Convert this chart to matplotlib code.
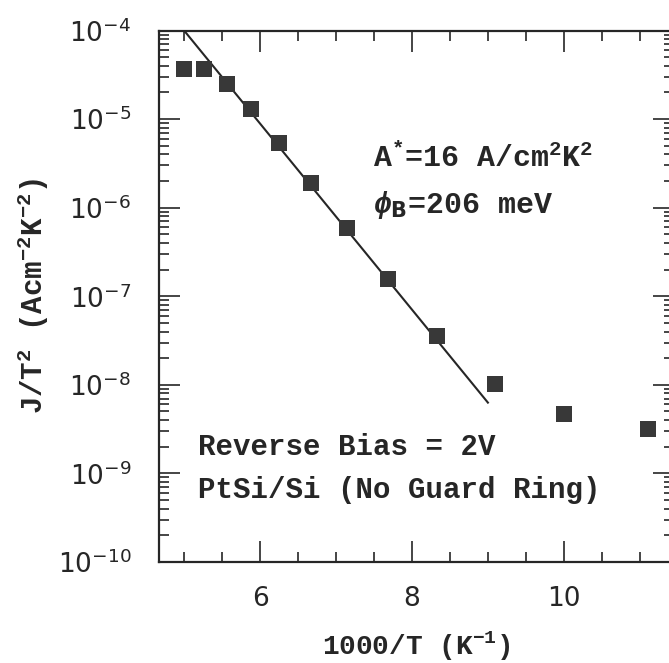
import math
import matplotlib
matplotlib.use("Agg")
import matplotlib.pyplot as plt
from matplotlib.ticker import LogLocator, MultipleLocator, FixedLocator, FuncFormatter, NullFormatter

plt.rcParams["mathtext.fontset"] = "dejavusans"
plt.rcParams["mathtext.rm"] = "Liberation Mono:bold"
plt.rcParams["mathtext.it"] = "Liberation Mono:italic:bold"
plt.rcParams["mathtext.bf"] = "Liberation Mono:bold"
plt.rcParams["mathtext.sf"] = "DejaVu Sans:bold"

# Data
inv_T = [5.0, 5.26, 5.56, 5.88, 6.25, 6.67, 7.14, 7.69, 8.33, 9.09, 10.0, 11.11]
j_over_T2 = [3.65e-5, 3.65e-5, 2.5e-5, 1.3e-5, 5.4e-6, 1.9e-6, 5.9e-7, 1.57e-7,
             3.6e-8, 1.02e-8, 4.7e-9, 3.2e-9]
fit_x = [5.0, 9.0]
fit_y = [1.0e-4, 6.3e-9]
xticks_major = [6, 8, 10]
xtick_labels = ["6", "8", "10"]
ytick_exps = [-10, -9, -8, -7, -6, -5, -4]

W, H = 669, 663
fig = plt.figure(figsize=(W / 100, H / 100), dpi=100)
L, R, T, B = 159, 674, 30.5, 562
ax = fig.add_axes([L / W, 1 - B / H, (R - L) / W, (B - T) / H])

ink = "#262626"
ax.plot(fit_x, fit_y, color=ink, lw=1.5, zorder=2)
ax.plot(inv_T, j_over_T2, linestyle="none", marker="s", markersize=11.5,
        color="#383838", markeredgewidth=0, zorder=3, clip_on=False)

ax.set_yscale("log")
ax.set_xlim(4.67, 11.45)
ax.set_ylim(1e-10, 1e-4)

ax.xaxis.set_major_locator(FixedLocator(xticks_major))
ax.set_xticklabels(xtick_labels)
ax.xaxis.set_minor_locator(MultipleLocator(0.5))
ax.yaxis.set_major_locator(FixedLocator([10.0 ** e for e in ytick_exps]))
ax.yaxis.set_minor_locator(LogLocator(base=10, subs=range(2, 10), numticks=20))
ax.yaxis.set_minor_formatter(NullFormatter())
ax.yaxis.set_major_formatter(FuncFormatter(
    lambda v, p: r"$10^{%d}$" % round(math.log10(v))))

for s in ax.spines.values():
    s.set_linewidth(1.6)
    s.set_color(ink)

ax.tick_params(which="both", direction="in", top=True, right=True, color=ink)
ax.tick_params(which="major", length=15, width=1.2)
ax.tick_params(which="minor", length=7.5, width=1.2)
ax.tick_params(axis="x", which="major", pad=17, labelsize=19, labelcolor=ink)
ax.tick_params(axis="y", which="major", pad=20, labelsize=19, labelcolor=ink)

mono = "Liberation Mono"
tkw = dict(family=mono, weight="bold", color=ink, math_fontfamily="custom")
ax.set_xlabel(r"1000/T (K$^{-1}$)", fontsize=20, labelpad=13, **tkw)
ax.set_ylabel(r"J/T$^{2}$ (Acm$^{-2}$K$^{-2}$)", fontsize=21, labelpad=5, **tkw)

def px(x, y):
    return (x / W, 1 - y / H)

fig.text(*px(373, 167), r"A$^{*}$=16 A/cm$^{2}$K$^{2}$", fontsize=21.5,
         va="baseline", **tkw)
fig.text(*px(373, 213), r"$\phi_{\mathsf{B}}$=206 meV", fontsize=21.5,
         va="baseline", **tkw)
fig.text(*px(198, 455), "Reverse Bias = 2V", fontsize=21, va="baseline", **tkw)
fig.text(*px(198, 498), "PtSi/Si (No Guard Ring)", fontsize=21, va="baseline", **tkw)

fig.savefig("out.png", dpi=100)
